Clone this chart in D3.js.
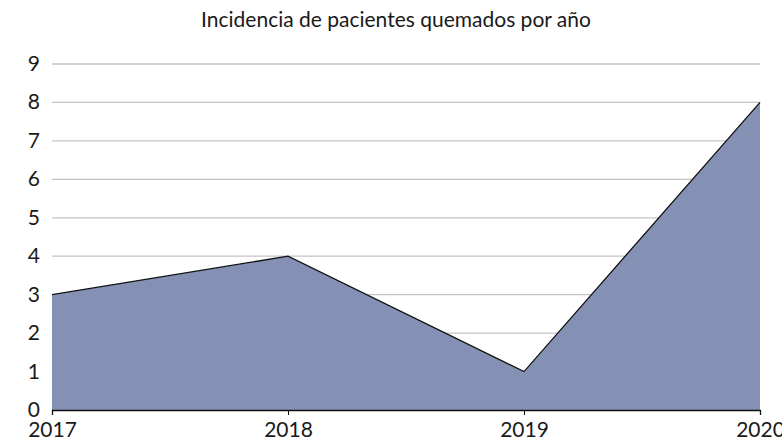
<!DOCTYPE html>
<html><head><meta charset="utf-8">
<script src="https://cdn.jsdelivr.net/npm/d3@7"></script>
<style>body{margin:0;background:#fff}svg{display:block}text{font-family:Lato,"Open Sans",sans-serif;fill:#1a1a1a}</style>
</head><body><svg id="c" width="782" height="446"></svg>
<script>
const title = "Incidencia de pacientes quemados por año";
const years = ["2017","2018","2019","2020"];
const values = [3,4,1,8];
const yTicks = [0,1,2,3,4,5,6,7,8,9];

const svg = d3.select("#c");
const m = {l:52, r:760, t:64, b:410};
const x = d3.scalePoint().domain(years).range([m.l, m.r]);
const y = d3.scaleLinear().domain([0,9]).range([m.b, m.t]);

svg.append("text").attr("x",396).attr("y",27).attr("text-anchor","middle")
  .style("font-size","21px").text(title);

// gridlines
svg.append("g").selectAll("line").data(yTicks.filter(d=>d>0)).join("line")
  .attr("x1",m.l).attr("x2",m.r).attr("y1",d=>y(d)).attr("y2",d=>y(d))
  .attr("stroke","#c4c4c4").attr("stroke-width",1.3);

const data = years.map((yr,i)=>({yr, v: values[i]}));
svg.append("path").datum(data)
  .attr("d", d3.area().x(d=>x(d.yr)).y0(y(0)).y1(d=>y(d.v)))
  .attr("fill","#8491b5");
svg.append("path").datum(data)
  .attr("d", d3.line().x(d=>x(d.yr)).y(d=>y(d.v)))
  .attr("fill","none").attr("stroke","#111").attr("stroke-width",1.3);

// y labels
svg.append("g").selectAll("text").data(yTicks).join("text")
  .attr("x",40).attr("y",d=>y(d)+7).attr("text-anchor","end")
  .style("font-size","21px").text(d=>d);

// x axis
const xa = svg.append("g").attr("transform",`translate(0,${m.b})`)
  .call(d3.axisBottom(x).tickSize(5).tickPadding(7));
xa.select(".domain").attr("stroke","#111").attr("stroke-width",1.3);
xa.selectAll(".tick line").attr("stroke","#111");
xa.selectAll(".tick text").style("font-size","21px").attr("fill","#1a1a1a").style("font-family","Lato, 'Open Sans', sans-serif");
</script></body></html>
